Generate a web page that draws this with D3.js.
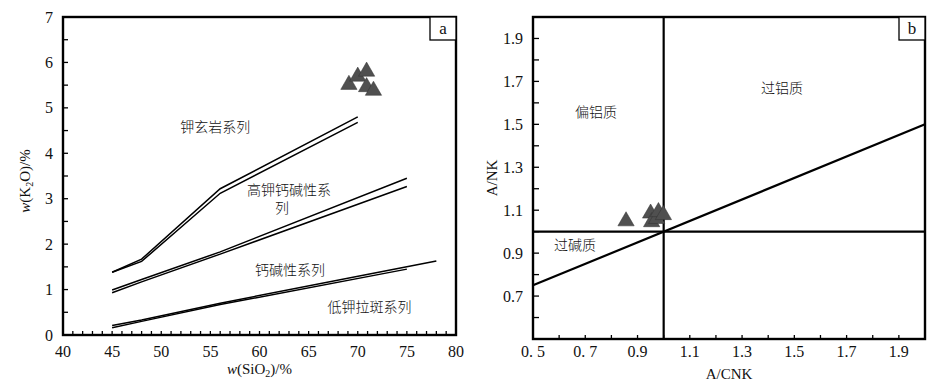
<!DOCTYPE html>
<html>
<head>
<meta charset="utf-8">
<script src="https://cdn.jsdelivr.net/npm/d3@7"></script>
<style>
  body { margin: 0; background: #fff; }
  svg text { font-family: "Liberation Serif", "Noto Sans CJK SC", serif; fill: #111; }
  .cjk { font-family: "Noto Sans CJK SC", sans-serif; font-weight: 300; font-size: 14px; }
</style>
</head>
<body>
<svg id="chart" width="943" height="387"></svg>
<script>
// panel a : K2O vs SiO2, boundary lines (pairs)
var shoUpper = [[45, 1.38], [48, 1.67], [56, 3.22], [70, 4.80]];
var shoLower = [[45, 1.38], [48, 1.62], [56, 3.12], [70, 4.68]];
var hkUpper = [[45, 0.99], [48, 1.22], [56, 1.83], [75, 3.45]];
var hkLower = [[45, 0.93], [48, 1.17], [56, 1.78], [75, 3.27]];
var lkUpper = [[45, 0.21], [48, 0.33], [56, 0.70], [78, 1.63]];
var lkLower = [[45, 0.16], [48, 0.30], [56, 0.67], [75, 1.45]];
var samplesA = [[69.1, 5.51], [70.0, 5.69], [70.9, 5.80], [70.9, 5.46], [71.6, 5.38]];
var xTicksA = [40, 45, 50, 55, 60, 65, 70, 75, 80];
var yTicksA = [0, 1, 2, 3, 4, 5, 6, 7];
var labelsA = [
  {t: "钾玄岩系列", x: 55.5, y: 4.58},
  {t: "高钾钙碱性系", x: 63.0, y: 3.20},
  {t: "列", x: 62.3, y: 2.80},
  {t: "钙碱性系列", x: 63.1, y: 1.43},
  {t: "低钾拉斑系列", x: 71.2, y: 0.62}
];

// panel b : A/NK vs A/CNK
var lineVert = [[1.0, 0.5], [1.0, 2.0]];
var lineHorz = [[0.5, 1.0], [2.0, 1.0]];
var lineDiag = [[0.5, 0.75], [2.0, 1.5]];
var samplesB = [[0.856, 1.049], [0.950, 1.085], [0.954, 1.045], [0.973, 1.060], [0.980, 1.092], [0.999, 1.078]];
var xTickLabelsB = ["0. 5", "0. 7", "0.9", "1.1", "1.3", "1.5", "1.7", "1.9"];
var xTicksB = [0.5, 0.7, 0.9, 1.1, 1.3, 1.5, 1.7, 1.9];
var yTicksB = [0.7, 0.9, 1.1, 1.3, 1.5, 1.7, 1.9];
var labelsB = [
  {t: "偏铝质", x: 0.741, y: 1.557},
  {t: "过铝质", x: 1.453, y: 1.669},
  {t: "过碱质", x: 0.661, y: 0.938}
];

var svg = d3.select("#chart");

var xa = d3.scaleLinear().domain([40, 80]).range([63, 456]);
var ya = d3.scaleLinear().domain([0, 7]).range([335, 17]);
var xb = d3.scaleLinear().domain([0.5, 2.0]).range([533, 925]);
var yb = d3.scaleLinear().domain([0.5, 2.0]).range([339, 17]);

function drawPanel(x, y, opts) {
  var g = svg.append("g");
  var x0 = x.range()[0], x1 = x.range()[1], y0 = y.range()[1], y1 = y.range()[0];

  // inward minor / major ticks
  g.selectAll(".xt").data(opts.xMinor).enter().append("line")
    .attr("x1", function (d) { return x(d); }).attr("x2", function (d) { return x(d); })
    .attr("y1", y1).attr("y2", y1 - opts.xTickLen)
    .attr("stroke", "#000").attr("stroke-width", 1.3);
  g.selectAll(".yt").data(opts.yMinor).enter().append("line")
    .attr("y1", function (d) { return y(d); }).attr("y2", function (d) { return y(d); })
    .attr("x1", x0).attr("x2", x0 + opts.yTickLen)
    .attr("stroke", "#000").attr("stroke-width", 1.3);

  // tick labels
  g.selectAll(".xl").data(opts.xTicks).enter().append("text")
    .attr("x", function (d) { return x(d); }).attr("y", opts.xLabelY)
    .attr("text-anchor", "middle").style("font-size", "16px")
    .text(function (d, i) { return opts.xTickText ? opts.xTickText[i] : d; });
  g.selectAll(".yl").data(opts.yTicks).enter().append("text")
    .attr("x", x0 - 10).attr("y", function (d) { return y(d); })
    .attr("dy", "0.35em").attr("text-anchor", "end").style("font-size", "16px")
    .text(function (d) { return opts.yFmt(d); });

  // frame
  g.append("rect").attr("x", x0).attr("y", y0).attr("width", x1 - x0).attr("height", y1 - y0)
    .attr("fill", "none").attr("stroke", "#000").attr("stroke-width", 2.4);

  // corner letter box
  g.append("rect").attr("x", x1 - 26).attr("y", y0).attr("width", 26).attr("height", 23)
    .attr("fill", "#fff").attr("stroke", "#000").attr("stroke-width", 1.3);
  g.append("text").attr("x", x1 - 13).attr("y", y0 + 17).attr("text-anchor", "middle")
    .style("font-size", "17px").text(opts.letter);
  return g;
}

// ---- panel a ----
var gA = drawPanel(xa, ya, {
  xMinor: d3.range(41, 80, 1), yMinor: d3.range(0.5, 7, 0.5),
  xTickLen: 4, yTickLen: 5,
  xTicks: xTicksA, yTicks: yTicksA, xLabelY: 357,
  yFmt: function (d) { return d; }, letter: "a"
});

var lineA = d3.line().x(function (d) { return xa(d[0]); }).y(function (d) { return ya(d[1]); });
[shoUpper, shoLower, hkUpper, hkLower, lkUpper, lkLower].forEach(function (s) {
  gA.append("path").attr("d", lineA(s)).attr("fill", "none")
    .attr("stroke", "#000").attr("stroke-width", 1.5);
});

gA.selectAll(".lab").data(labelsA).enter().append("text").attr("class", "cjk")
  .attr("x", function (d) { return xa(d.x); }).attr("y", function (d) { return ya(d.y); })
  .attr("dy", "0.35em").attr("text-anchor", "middle").text(function (d) { return d.t; });

var tri = d3.symbol().type(d3.symbolTriangle).size(115);
gA.selectAll(".pt").data(samplesA).enter().append("path").attr("d", tri)
  .attr("transform", function (d) { return "translate(" + xa(d[0]) + "," + ya(d[1]) + ")"; })
  .attr("fill", "#505050").attr("stroke", "#333").attr("stroke-width", 0.5);

// axis titles a
var tx = gA.append("text").attr("x", xa(60)).attr("y", 374).attr("text-anchor", "middle").style("font-size", "15px");
tx.append("tspan").style("font-style", "italic").text("w");
tx.append("tspan").text("(SiO");
tx.append("tspan").attr("dy", 3).style("font-size", "10px").text("2");
tx.append("tspan").attr("dy", -3).text(")/%");

var ty = gA.append("text").attr("transform", "translate(30,181) rotate(-90)")
  .attr("text-anchor", "middle").style("font-size", "15px");
ty.append("tspan").style("font-style", "italic").text("w");
ty.append("tspan").text("(K");
ty.append("tspan").attr("dy", 3).style("font-size", "10px").text("2");
ty.append("tspan").attr("dy", -3).text("O)/%");

// ---- panel b ----
var gB = drawPanel(xb, yb, {
  xMinor: d3.range(6, 20, 1).map(function (d) { return d / 10; }),
  yMinor: d3.range(6, 20, 1).map(function (d) { return d / 10; }),
  xTickLen: 4, yTickLen: 6,
  xTicks: xTicksB, xTickText: xTickLabelsB, yTicks: yTicksB, xLabelY: 357,
  yFmt: d3.format(".1f"), letter: "b"
});

var lineB = d3.line().x(function (d) { return xb(d[0]); }).y(function (d) { return yb(d[1]); });
[lineVert, lineHorz, lineDiag].forEach(function (s) {
  gB.append("path").attr("d", lineB(s)).attr("fill", "none")
    .attr("stroke", "#000").attr("stroke-width", 2.2);
});

gB.selectAll(".lab").data(labelsB).enter().append("text").attr("class", "cjk")
  .attr("x", function (d) { return xb(d.x); }).attr("y", function (d) { return yb(d.y); })
  .attr("dy", "0.35em").attr("text-anchor", "middle").text(function (d) { return d.t; });

gB.selectAll(".pt").data(samplesB).enter().append("path").attr("d", tri)
  .attr("transform", function (d) { return "translate(" + xb(d[0]) + "," + yb(d[1]) + ")"; })
  .attr("fill", "#505050").attr("stroke", "#333").attr("stroke-width", 0.5);

gB.append("text").attr("x", xb(1.25)).attr("y", 379).attr("text-anchor", "middle")
  .style("font-size", "15px").text("A/CNK");
gB.append("text").attr("transform", "translate(497,178) rotate(-90)")
  .attr("text-anchor", "middle").style("font-size", "15px").text("A/NK");
</script>
</body>
</html>
